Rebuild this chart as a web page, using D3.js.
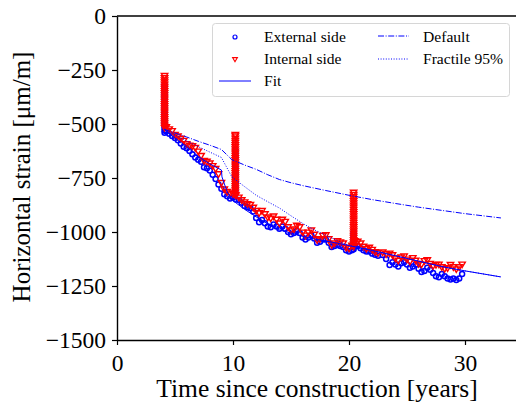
<!doctype html>
<html lang="en">
<head>
<meta charset="utf-8" />
<title>Horizontal strain</title>
<script src="https://d3js.org/d3.v7.min.js"></script>
<style>
  body { margin: 0; background: #fff; }
  svg text { font-family: "Liberation Serif", "Times New Roman", serif; fill: #000; }
</style>
</head>
<body>
<div id="chart"></div>
<script>
// quarterly sample times (years since construction)
var sampleTimes = [4.25,4.5,4.75,5,5.25,5.5,5.75,6,6.25,6.5,6.75,7,7.25,7.5,7.75,8,8.25,8.5,8.75,9,
  9.25,9.5,9.75,10,10.25,10.5,10.75,11,11.25,11.5,11.75,12,12.25,12.5,12.75,13,13.25,13.5,13.75,14,
  14.25,14.5,14.75,15,15.25,15.5,15.75,16,16.25,16.5,16.75,17,17.25,17.5,17.75,18,18.25,18.5,18.75,19,
  19.25,19.5,19.75,20,20.25,20.5,20.75,21,21.25,21.5,21.75,22,22.25,22.5,22.9,23.2,23.5,23.75,24,
  24.25,24.5,24.75,25,25.25,25.5,25.75,26,26.25,26.5,26.75,27,27.25,27.5,27.75,28,28.25,28.5,28.75,29,
  29.25,29.5,29.75];

var externalStrain = [-535,-545,-555,-565,-575,-590,-605,-612,-625,-640,-655,-665,-675,-700,-705,-715,-735,-755,-780,-800,
  -825,-835,-845,-840,-850,-852,-865,-880,-885,-890,-905,-935,-955,-945,-960,-975,-978,-965,-975,-985,
  -975,-985,-1000,-1010,-1005,-995,-1005,-1025,-1035,-1025,-1015,-1030,-1050,-1045,-1035,-1035,-1050,-1070,-1065,-1060,
  -1065,-1070,-1085,-1090,-1085,-1065,-1065,-1075,-1085,-1090,-1090,-1100,-1105,-1110,-1106,-1125,-1153,-1140,-1150,
  -1160,-1145,-1140,-1150,-1165,-1160,-1150,-1170,-1185,-1180,-1165,-1175,-1190,-1205,-1210,-1195,-1205,-1215,-1220,-1215,
  -1222,-1215,-1195];

var internalStrain = [-512,-522,-530,-548,-555,-565,-575,-590,-598,-600,-608,-625,-645,-668,-672,-680,-692,-705,-730,-770,
  -800,-812,-818,-822,-828,-838,-850,-860,-868,-872,-885,-900,-910,-900,-915,-930,-935,-925,-940,-958,
  -940,-950,-975,-990,-985,-968,-975,-1000,-1014,-1000,-990,-1010,-1035,-1030,-1015,-1012,-1030,-1058,-1050,-1040,
  -1045,-1050,-1070,-1074,-1060,-1040,-1042,-1050,-1065,-1075,-1070,-1080,-1090,-1095,-1092,-1100,-1097,-1105,-1120,
  -1130,-1115,-1110,-1125,-1135,-1118,-1130,-1145,-1148,-1132,-1128,-1145,-1155,-1150,-1148,-1160,-1168,-1165,-1150,-1160,
  -1170,-1160,-1148];

// vertical bursts of readings (one time each)
var spikeTimes = [4.1, 10.2, 20.4];
var externalSpikes = [
  [-540,-530,-520,-510,-500,-490,-480,-470,-460,-450,-440,-430,-420,-410,-400,-390,-380,-370,-360,-350,-340,-330,-320],
  [-810,-800,-790,-780,-770,-760,-750,-740,-730,-720,-710,-700,-690,-680,-670,-660,-650,-640,-630,-620],
  [-1080,-1070,-1060,-1050,-1040,-1030,-1020,-1010,-1000]
];
var internalSpikes = [
  [-515,-505,-495,-485,-475,-465,-455,-445,-435,-425,-415,-405,-395,-385,-375,-365,-355,-345,-335,-325,-315,-305,-295,-285,-275],
  [-825,-815,-805,-795,-785,-775,-765,-755,-745,-735,-725,-715,-705,-695,-685,-675,-665,-655,-645,-635,-625,-615,-605,-595,-585,-575,-565,-555,-548],
  [-1065,-1055,-1045,-1035,-1025,-1015,-1005,-995,-985,-975,-965,-955,-945,-935,-925,-915,-905,-895,-885,-875,-865,-855,-845,-835,-825,-815]
];

// model curves
var fitTimes    = [4.1,5,6,7,8,9,9.05,9.5,10,11,12,13,14,15,16,17,18,19,20,22,24,26,28,30,33.1];
var fitStrain   = [-525,-565,-605,-650,-685,-713,-745,-815,-855,-895,-930,-962,-990,-1005,-1020,-1032,-1042,-1052,-1063,-1085,-1110,-1135,-1160,-1180,-1208];
var defaultTimes  = [4.1,5,6,7,8,9,9.9,11,12,13,14,15,16,18,20,22,24,26,28,30,33.1];
var defaultStrain = [-525,-542,-560,-580,-598,-618,-665,-690,-710,-735,-757,-772,-785,-808,-830,-850,-868,-885,-900,-915,-935];
var fractileTimes  = [4.1,5,6,7,8,9,9.9,11,12,13,14,15,16,17,18,19,20,21,22,24,26,28,30,33.1];
var fractileStrain = [-525,-550,-578,-605,-630,-655,-745,-790,-830,-860,-889,-925,-960,-990,-1015,-1040,-1062,-1075,-1087,-1110,-1135,-1160,-1180,-1208];

var xTicks = [0, 10, 20, 30];
var yTicks = [0, -250, -500, -750, -1000, -1250, -1500];

var width = 516, height = 407;
var plotLeft = 117, plotRight = 517, plotTop = 16, plotBottom = 340;

var svg = d3.select("#chart").append("svg")
  .attr("width", width)
  .attr("height", height);

var x = d3.scaleLinear().domain([0, (plotRight - plotLeft) / 11.6]).range([plotLeft, plotRight]);
var y = d3.scaleLinear().domain([-1500, 0]).range([plotBottom, plotTop]);

var blue = "#0000ff", red = "#ff0000";

// flatten the spike bursts into time/value pairs
function spikePairs(sets) {
  var out = [];
  sets.forEach(function(vals, k){
    vals.forEach(function(v){ out.push([spikeTimes[k], v]); });
  });
  return out;
}
var externalPts = spikePairs(externalSpikes).concat(d3.zip(sampleTimes, externalStrain));
var internalPts = spikePairs(internalSpikes).concat(d3.zip(sampleTimes, internalStrain));

// data markers
var tri = d3.symbol().type(d3.symbolTriangle).size(18);

svg.append("g").selectAll("circle")
  .data(externalPts)
  .enter().append("circle")
    .attr("cx", function(d){ return x(d[0]); })
    .attr("cy", function(d){ return y(d[1]); })
    .attr("r", 2.5)
    .attr("fill", "none")
    .attr("stroke", blue)
    .attr("stroke-width", 1.5);

svg.append("g").selectAll("path")
  .data(internalPts)
  .enter().append("path")
    .attr("d", tri)
    .attr("transform", function(d){ return "translate(" + x(d[0]) + "," + y(d[1]) + ") rotate(180)"; })
    .attr("fill", "none")
    .attr("stroke", red)
    .attr("stroke-width", 1.4);

// model lines
var line = d3.line()
  .x(function(d){ return x(d[0]); })
  .y(function(d){ return y(d[1]); });

function drawCurve(ts, vs, dash) {
  svg.append("path")
    .datum(d3.zip(ts, vs))
    .attr("d", line)
    .attr("fill", "none")
    .attr("stroke", blue)
    .attr("stroke-width", 1)
    .attr("stroke-dasharray", dash);
}
drawCurve(fitTimes, fitStrain, null);
drawCurve(defaultTimes, defaultStrain, "6,1.6,1,1.6");
drawCurve(fractileTimes, fractileStrain, "1,1.6");

// axes
var fmt = d3.format("d");
var yAxis = d3.axisLeft(y).tickValues(yTicks).tickSize(5).tickSizeOuter(0).tickPadding(6)
  .tickFormat(function(d){ return fmt(d); });
var xAxis = d3.axisBottom(x).tickValues(xTicks).tickSize(5).tickSizeOuter(0).tickPadding(9);

var gy = svg.append("g").attr("transform", "translate(" + plotLeft + ",0)").call(yAxis);
var gx = svg.append("g").attr("transform", "translate(0," + plotBottom + ")").call(xAxis);
[gx, gy].forEach(function(g){
  g.selectAll("text").attr("font-size", "23.5px").attr("font-family", "Liberation Serif").attr("fill", "#000");
  g.selectAll("line").attr("stroke", "#000").attr("stroke-width", 1.2);
  g.select(".domain").attr("stroke", "#000").attr("stroke-width", 1.4);
});
// top spine
svg.append("line")
  .attr("x1", plotLeft).attr("x2", plotRight)
  .attr("y1", plotTop).attr("y2", plotTop)
  .attr("stroke", "#000").attr("stroke-width", 1.4);

// axis titles
svg.append("text")
  .attr("x", 317).attr("y", 397)
  .attr("text-anchor", "middle")
  .attr("font-size", "25.5px")
  .text("Time since construction [years]");
svg.append("text")
  .attr("transform", "translate(30,177) rotate(-90)")
  .attr("text-anchor", "middle")
  .attr("font-size", "25px")
  .text("Horizontal strain [\u03bcm/m]");

// legend
var legend = svg.append("g");
legend.append("rect")
  .attr("x", 212.5).attr("y", 23.5)
  .attr("width", 297).attr("height", 73)
  .attr("rx", 3)
  .attr("fill", "#fff").attr("fill-opacity", 0.8)
  .attr("stroke", "#d6d6d6").attr("stroke-width", 1);

legend.append("circle")
  .attr("cx", 235).attr("cy", 37).attr("r", 2)
  .attr("fill", "none").attr("stroke", blue).attr("stroke-width", 1.2);
legend.append("path")
  .attr("d", d3.symbol().type(d3.symbolTriangle).size(10))
  .attr("transform", "translate(235,59) rotate(180)")
  .attr("fill", "none").attr("stroke", red).attr("stroke-width", 1.1);
legend.append("line")
  .attr("x1", 219).attr("x2", 251).attr("y1", 81).attr("y2", 81)
  .attr("stroke", blue).attr("stroke-width", 1);
legend.append("line")
  .attr("x1", 378).attr("x2", 409).attr("y1", 36).attr("y2", 36)
  .attr("stroke", blue).attr("stroke-width", 1).attr("stroke-dasharray", "6,1.6,1,1.6");
legend.append("line")
  .attr("x1", 378).attr("x2", 409).attr("y1", 59).attr("y2", 59)
  .attr("stroke", blue).attr("stroke-width", 1).attr("stroke-dasharray", "1,1.6");

var legendText = [["External side", 264, 37], ["Internal side", 264, 59], ["Fit", 264, 81],
  ["Default", 423, 37], ["Fractile 95%", 423, 59]];
legend.selectAll("text.lbl")
  .data(legendText)
  .enter().append("text")
    .attr("class", "lbl")
    .attr("x", function(d){ return d[1]; })
    .attr("y", function(d){ return d[2]; })
    .attr("dy", "0.35em")
    .attr("font-size", "15.6px")
    .text(function(d){ return d[0]; });
</script>
</body>
</html>
